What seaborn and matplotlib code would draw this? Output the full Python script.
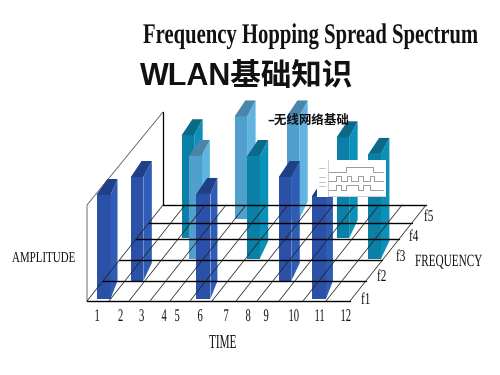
# coding=utf-8
import numpy as np
import matplotlib.pyplot as plt
import matplotlib.patheffects as pe
from matplotlib.transforms import Affine2D
import seaborn as sns

sns.set_theme(style='white')
plt.rcParams['font.family'] = ['Liberation Sans', 'Noto Sans CJK SC', 'DejaVu Sans']

# 数据
time_ticks = ['1', '2', '3', '4', '5', '6', '7', '8', '9', '10', '11', '12']
freq_ticks = ['f1', 'f2', 'f3', 'f4', 'f5']
# 每根柱子: 时间位置, 频率位置, 幅度, 颜色组
bar_time = [0.36, 1.30, 2.14, 3.28, 5.22, 4.00, 6.08, 6.42, 8.27, 10.32, 9.33, 11.38]
bar_freq = [0.10, 1.00, 3.05, 2.05, 0.10, 4.20, 2.05, 4.20, 1.00, 0.10, 3.05, 2.05]
bar_amp = [1.00, 1.00, 0.99, 0.99, 1.01, 0.99, 0.99, 0.99, 1.00, 0.99, 0.97, 1.01]
bar_group = ['blue', 'blue', 'teal', 'light', 'blue', 'light', 'teal', 'light', 'blue', 'blue', 'teal', 'teal']

# 小图里的三条方波
wave_data_x = [0, 18, 45, 55]
wave_data_y = [0, 1, 0, 0]
wave_chip_x = [0, 8, 12.6, 18.6, 22.6, 30, 34.6, 42, 46, 55]
wave_chip_y = [0, 1, 0, 1, 0, 1, 0, 1, 0, 0]
wave_mix_x = [0, 8, 12.6, 18, 22.6, 30, 34.6, 42, 46, 55]
wave_mix_y = [0, 1, 0, 1, 1, 0, 1, 0, 0, 0]

# 版面 (像素)
edge_x = [87, 109, 129, 150, 170, 190, 212, 236, 257, 279, 303, 326, 350]
edge_y = [301, 281, 260, 239, 223, 205]
depth_dx, depth_dy = 76, 96
amp_px = 104
colors = {'blue': ('#2B50A8', '#2F5DB6', '#1F3F86'),
          'teal': ('#0A80A6', '#0B90B8', '#0A6A88'),
          'light': ('#509FCC', '#60B4E0', '#4A86AC')}

fig = plt.figure(figsize=(5, 3.75), dpi=100)
ax = fig.add_axes([0, 0, 1, 1])


class Squeeze(pe.AbstractPathEffect):
    # 原图是窄长的字体, 这里把字形横向压缩, 纵向拉长
    def __init__(self, sx, sy):
        super().__init__()
        self.sx, self.sy = sx, sy

    def draw_path(self, renderer, gc, tpath, affine, rgbFace=None):
        renderer.draw_path(gc, tpath, Affine2D().scale(self.sx, self.sy) + affine, rgbFace)


def line(x, y, a=ax, color='black', lw=1.0):
    sns.lineplot(x=x, y=y, ax=a, color=color, lw=lw, sort=False, estimator=None, legend=False)


def shift(y):
    return depth_dx * (edge_y[0] - y) / depth_dy


def narrow(x, y, s, size, sx, sy, weight='normal'):
    t = ax.text(x, y, s, fontsize=size, fontweight=weight, color='#111111',
                family=['Liberation Serif', 'DejaVu Serif'])
    t.set_path_effects([Squeeze(sx, sy)])
    return t


# 墙
line([87, 87, 87 + depth_dx], [edge_y[0], edge_y[-1], 112], color='#555555', lw=0.6)
line([87 + depth_dx, 87 + depth_dx], [112, edge_y[-1]], lw=0.9)
# 地面网格
for y in edge_y:
    line([edge_x[0] + shift(y), edge_x[-1] + shift(y)], [y, y], lw=1.0)
for x in edge_x:
    line([x, x + depth_dx], [edge_y[0], edge_y[-1]], color='#222222', lw=0.55)

# 由后向前画柱子
order = np.argsort(bar_freq)[::-1]
for i in order:
    base = np.interp(bar_freq[i], range(6), edge_y)
    left = np.interp(bar_time[i], range(13), edge_x) + shift(base)
    h = bar_amp[i] * amp_px
    front, side, top = colors[bar_group[i]]
    w = 14 if bar_freq[i] < 0.5 else 12.5
    sns.barplot(x=[left + w / 2], y=[-h], bottom=base, width=w, native_scale=True,
                color=front, saturation=1, errorbar=None, linewidth=0, ax=ax, legend=False)
    ax.fill([left + w, left + 21, left + 21, left + w],
            [base, base - 18, base - h - 16, base - h], color=side, lw=0)
    ax.fill([left, left + w, left + 21, left + 10.7],
            [base - h, base - h, base - h - 16, base - h - 16], color=top, lw=0)

ax.set_xlim(0, 500)
ax.set_ylim(375, 0)
ax.set_xticks([])
ax.set_yticks([])
ax.set_xlabel('')
ax.set_ylabel('')
sns.despine(ax=ax, left=True, bottom=True)

# 文字
narrow(143, 43, 'Frequency Hopping Spread Spectrum', 15.5, 0.96, 1.32, 'bold')
ax.text(140, 85, 'WLAN基础知识', fontsize=22, fontweight='bold', color='#111111',
        family=['Liberation Sans', 'Noto Sans CJK SC'])
ax.text(267, 124, '–无线网络基础', fontsize=9, fontweight='bold', color='#111111',
        family=['Noto Sans CJK SC', 'DejaVu Sans'])
narrow(12, 262, 'AMPLITUDE', 9.5, 0.83, 1.15)
narrow(415, 266, 'FREQUENCY', 9.5, 0.85, 1.3)
narrow(209, 348, 'TIME', 9.5, 0.85, 1.5)
tick_x = [94.5, 118, 139, 161.5, 174.5, 197.5, 223.5, 245.5, 263.5, 288.5, 314.5, 340.5]
for x, s in zip(tick_x, time_ticks):
    narrow(x, 321, s, 9.5, 0.8, 1.35)
f_x = [361, 377, 396, 409, 424]
f_y = [304, 281, 261, 241, 221]
for x, y, s in zip(f_x, f_y, freq_ticks):
    narrow(x, y, s, 9.5, 0.85, 1.25)

# 小图
inset = fig.add_axes([317 / 500, 1 - 197 / 375, 69 / 500, 37 / 375], facecolor='white')
inset.set_xlim(-11, 58)
inset.set_ylim(37, 0)
gray = '#8A8A8A'
for wx, wy, low in [(wave_data_x, wave_data_y, 12), (wave_chip_x, wave_chip_y, 21), (wave_mix_x, wave_mix_y, 30)]:
    sns.lineplot(x=wx, y=[low - 5 * v for v in wy], ax=inset, color=gray, lw=0.6, sort=False,
                 estimator=None, drawstyle='steps-post', legend=False)
line([0, 0], [0, 36], a=inset, color='#BBBBBB', lw=0.5)
line([0, 57], [36, 36], a=inset, color='#BBBBBB', lw=0.5)
for y in [8, 17, 22, 26]:
    line([-9, -3], [y, y], a=inset, color='#AAAAAA', lw=0.5)
inset.set_xticks([])
inset.set_yticks([])
inset.set_xlabel('')
inset.set_ylabel('')
sns.despine(ax=inset, left=True, bottom=True)

fig.savefig('out.png', dpi=100)
